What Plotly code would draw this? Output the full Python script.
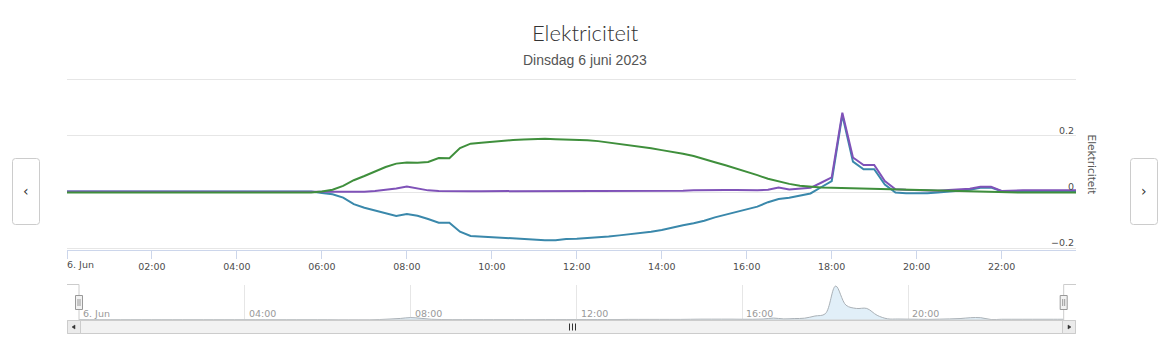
import pandas as pd
import plotly.graph_objects as go

W, H = 1170, 346

# ---------------- data ----------------
times = pd.date_range("2023-06-06 00:00", periods=96, freq="15min")

green = ([-0.002] * 24 +
         [0.002, 0.008, 0.022, 0.042, 0.057, 0.072, 0.089, 0.101, 0.105, 0.104,
          0.107, 0.121, 0.120, 0.156, 0.172, 0.175, 0.179, 0.182, 0.185, 0.187,
          0.189, 0.189, 0.188, 0.187, 0.186, 0.184, 0.181, 0.176, 0.172, 0.167,
          0.161, 0.156, 0.149, 0.143, 0.136, 0.128, 0.118, 0.106, 0.095, 0.084,
          0.072, 0.060, 0.047, 0.037, 0.029, 0.022, 0.018, 0.016, 0.015, 0.014,
          0.013, 0.012, 0.011, 0.010, 0.009, 0.008, 0.007, 0.006, 0.004, 0.003,
          0.002, 0.001, 0.000, -0.001] +
         [-0.002] * 8)

blue = ([0.002] * 24 +
        [-0.003, -0.008, -0.020, -0.043, -0.056, -0.066, -0.077, -0.085, -0.078, -0.084,
         -0.096, -0.109, -0.109, -0.141, -0.156, -0.158, -0.161, -0.164, -0.166, -0.168,
         -0.169, -0.171, -0.171, -0.167, -0.166, -0.164, -0.161, -0.158, -0.154, -0.150,
         -0.146, -0.141, -0.135, -0.126, -0.118, -0.111, -0.102, -0.090, -0.080, -0.071,
         -0.062, -0.052, -0.036, -0.025, -0.020, -0.012, -0.005, 0.017, 0.039, 0.274,
         0.108, 0.081, 0.081, 0.027, -0.002, -0.004, -0.005, -0.004, -0.002, 0.001,
         0.004, 0.008, 0.015, 0.016, 0.003, 0.002] +
        [0.004] * 6)

purple = ([0.002] * 24 +
          [0.002, 0.001, 0.001, 0.001, 0.001, 0.004, 0.008, 0.013, 0.020, 0.014,
           0.006, 0.004, 0.003] +
          [0.003, 0.003, 0.003, 0.003, 0.003, 0.003, 0.003, 0.003, 0.004, 0.004,
           0.004, 0.004, 0.004, 0.004, 0.004, 0.004, 0.005, 0.005, 0.005, 0.005,
           0.005, 0.005, 0.006] +
          [0.007, 0.007, 0.007, 0.007, 0.006, 0.006, 0.008, 0.016, 0.009, 0.012,
           0.015, 0.033, 0.052, 0.282, 0.123, 0.096, 0.096, 0.039, 0.010, 0.008,
           0.007, 0.006, 0.005, 0.007, 0.009, 0.012, 0.019, 0.019, 0.004] +
          [0.006] * 7)

main_tick_times = pd.date_range("2023-06-06 00:00", periods=12, freq="2h")
main_tick_text = ["6. Jun", "02:00", "04:00", "06:00", "08:00", "10:00",
                  "12:00", "14:00", "16:00", "18:00", "20:00", "22:00"]
nav_tick_times = pd.date_range("2023-06-06 00:00", periods=6, freq="4h")
nav_tick_text = ["6. Jun", "04:00", "08:00", "12:00", "16:00", "20:00"]
y_tick_vals = [-0.2, 0, 0.2, 0.4]
y_tick_text = ["\u22120.2", "0", "0.2", ""]

title_text = "Elektriciteit"
subtitle_text = "Dinsdag 6 juni 2023"
axis_title = "Elektriciteit"

GREEN = "#3f8f3c"
BLUE = "#3a88ab"
PURPLE = "#7f52b8"


def px(x):
    return x / W


def py(y):
    return 1 - y / H


fig = go.Figure()
fig.add_trace(go.Scatter(x=times, y=blue, mode="lines", line=dict(color=BLUE, width=2),
                         xaxis="x", yaxis="y", hoverinfo="skip"))
fig.add_trace(go.Scatter(x=times, y=purple, mode="lines", line=dict(color=PURPLE, width=2),
                         xaxis="x", yaxis="y", hoverinfo="skip"))
fig.add_trace(go.Scatter(x=times, y=green, mode="lines", line=dict(color=GREEN, width=2),
                         xaxis="x", yaxis="y", hoverinfo="skip"))
# navigator series
fig.add_trace(go.Scatter(x=times, y=purple, mode="lines", fill="tozeroy",
                         fillcolor="#e1eff8",
                         line=dict(color="#a9b0b6", width=1, shape="spline", smoothing=1.0),
                         xaxis="x2", yaxis="y2", hoverinfo="skip"))

t0 = times[0]
t1 = times[-1]

tickfont = dict(family="DejaVu Sans", size=9.5, color="#4d4d4d")

fig.update_layout(
    width=W, height=H,
    margin=dict(l=0, r=0, t=0, b=0),
    paper_bgcolor="white", plot_bgcolor="white",
    showlegend=False,
    xaxis=dict(domain=[px(67), px(1076)], range=[t0, t1], type="date",
               tickvals=list(main_tick_times), ticktext=[""] + main_tick_text[1:],
               ticks="outside", ticklen=8, tickcolor="#ccd6eb", tickwidth=1,
               showline=True, linecolor="#ccd6eb", linewidth=1,
               showgrid=False, zeroline=False, anchor="y", tickfont=tickfont),
    yaxis=dict(domain=[py(250), py(78.1)], range=[-0.206, 0.405],
               tickvals=y_tick_vals, showticklabels=False, side="right",
               showgrid=True, gridcolor="#e6e6e6", gridwidth=1, zeroline=False,
               anchor="x"),
    xaxis2=dict(domain=[px(79), px(1063.7)], range=[t0, t1], type="date",
                tickvals=list(nav_tick_times), showticklabels=False, ticks="",
                showgrid=True, gridcolor="#e6e6e6", zeroline=False, showline=False,
                anchor="y2"),
    yaxis2=dict(domain=[py(320), py(284.5)], range=[0, 0.295], visible=False,
                anchor="x2"),
)

ann = []
ann.append(dict(text=title_text, x=0.5, y=py(33), xref="paper", yref="paper",
                xanchor="center", yanchor="middle", showarrow=False,
                font=dict(family="Lato", size=22, color="#333333", weight=300)))
ann.append(dict(text=subtitle_text, x=0.5, y=py(60), xref="paper", yref="paper",
                xanchor="center", yanchor="middle", showarrow=False,
                font=dict(family="Liberation Sans", size=14, color="#555555")))
ann.append(dict(text=axis_title, x=px(1092), y=py(164.5), xref="paper", yref="paper",
                xanchor="center", yanchor="middle", showarrow=False, textangle=90,
                font=dict(family="DejaVu Sans", size=10.5, color="#555555")))
ann.append(dict(text=main_tick_text[0], x=t0, y=py(264), xref="x", yref="paper",
                xanchor="left", yanchor="middle", showarrow=False, xshift=-2,
                font=tickfont))
for v, t in zip(y_tick_vals, y_tick_text):
    if t:
        ann.append(dict(text=t, x=1, y=v, xref="x domain", yref="y",
                        xanchor="right", yanchor="bottom", showarrow=False, yshift=-2,
                        font=tickfont))
for tt, t in zip(nav_tick_times, nav_tick_text):
    ann.append(dict(text=t, x=tt, y=py(313), xref="x2", yref="paper",
                    xanchor="left", yanchor="middle", showarrow=False, xshift=2,
                    font=dict(family="DejaVu Sans", size=9.5, color="#999999")))
# side nav buttons arrows
ann.append(dict(text="\u2039", x=px(26), y=py(190.5), xref="paper", yref="paper",
                xanchor="center", yanchor="middle", showarrow=False,
                font=dict(family="DejaVu Sans", size=14, color="#333333")))
ann.append(dict(text="\u203a", x=px(1144), y=py(190.5), xref="paper", yref="paper",
                xanchor="center", yanchor="middle", showarrow=False,
                font=dict(family="DejaVu Sans", size=14, color="#333333")))


def rrect(x0, y0, x1, y1, r):
    rx, ry = r / W, r / H
    X0, X1 = px(x0), px(x1)
    Y0, Y1 = py(y0), py(y1)  # Y0 top (larger), Y1 bottom
    return (f"M {X0+rx},{Y0} L {X1-rx},{Y0} Q {X1},{Y0} {X1},{Y0-ry} "
            f"L {X1},{Y1+ry} Q {X1},{Y1} {X1-rx},{Y1} L {X0+rx},{Y1} "
            f"Q {X0},{Y1} {X0},{Y1+ry} L {X0},{Y0-ry} Q {X0},{Y0} {X0+rx},{Y0} Z")


def prect(x0, y0, x1, y1, fill, line, lw=1):
    return dict(type="rect", xref="paper", yref="paper", x0=px(x0), x1=px(x1),
                y0=py(y1), y1=py(y0), fillcolor=fill, line=dict(color=line, width=lw),
                layer="above")


def pline(pts, color, lw=1):
    d = "M " + " L ".join(f"{px(a)},{py(b)}" for a, b in pts)
    return dict(type="path", xref="paper", yref="paper", path=d,
                line=dict(color=color, width=lw), layer="above")


shapes = []
shapes.append(dict(type="path", xref="paper", yref="paper", path=rrect(12.5, 158.5, 39.5, 224.5, 3),
                   fillcolor="white", line=dict(color="#cccccc", width=1)))
shapes.append(dict(type="path", xref="paper", yref="paper", path=rrect(1130.5, 158.5, 1157.5, 224.5, 3),
                   fillcolor="white", line=dict(color="#cccccc", width=1)))
# scrollbar
shapes.append(prect(67.5, 320.5, 1075.5, 333.5, "#f2f2f2", "#cccccc"))
shapes.append(prect(67.5, 320.5, 80.5, 333.5, "#ebebeb", "#cccccc"))
shapes.append(prect(1062.5, 320.5, 1075.5, 333.5, "#ebebeb", "#cccccc"))
shapes.append(dict(type="path", xref="paper", yref="paper",
                   path=f"M {px(72)},{py(327)} L {px(75)},{py(325)} L {px(75)},{py(329)} Z",
                   fillcolor="#333333", line=dict(color="#333333", width=0.5), layer="above"))
shapes.append(dict(type="path", xref="paper", yref="paper",
                   path=f"M {px(1071)},{py(327)} L {px(1068)},{py(325)} L {px(1068)},{py(329)} Z",
                   fillcolor="#333333", line=dict(color="#333333", width=0.5), layer="above"))
for gx in (569.5, 572.5, 575.5):
    shapes.append(pline([(gx, 323.5), (gx, 330.5)], "#333333", 1))
# navigator outline
shapes.append(pline([(67, 284.5), (79, 284.5), (79, 320), (1063.7, 320),
                     (1063.7, 284.5), (1076, 284.5)], "#cccccc", 1))
# handles
for hx in (79, 1063.7):
    shapes.append(prect(hx - 3.5, 295.5, hx + 3.5, 309.5, "#f2f2f2", "#999999"))
    shapes.append(pline([(hx - 1, 299), (hx - 1, 306)], "#999999", 1))
    shapes.append(pline([(hx + 1, 299), (hx + 1, 306)], "#999999", 1))

fig.update_layout(annotations=ann, shapes=shapes)
fig.write_html("out.html")
